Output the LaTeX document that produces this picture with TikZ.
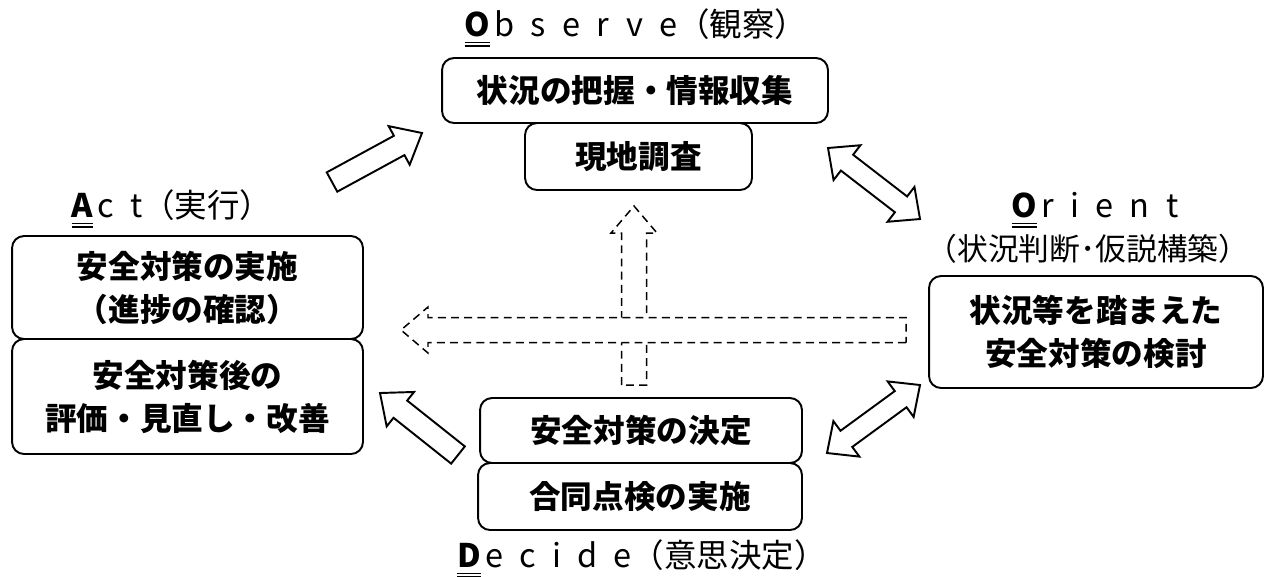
\documentclass[tikz,border=0pt]{standalone}
\usepackage{fontspec}
\usepackage{tikz}
\usetikzlibrary{calc}

\newfontfamily\jpfont{Noto Sans CJK JP}

\tikzset{
	stepbox/.style={draw, line width=1.1pt, rounded corners=0.24cm, fill=white, align=center, inner sep=0pt,
		font=\jpfont\bfseries\fontsize{18}{24.5}\selectfont},
	phase/.style={anchor=base, inner sep=0pt, font=\jpfont\fontsize{18.5}{24}\selectfont},
	bigarrow/.style={draw, line width=1.1pt, fill=white, line join=miter},
	dasharrow/.style={draw, line width=0.85pt, dash pattern=on 4.5pt off 3pt, fill=white, line join=miter}
}

% double underline under the first letter, the rest spaced out
\newcommand{\dul}[1]{\setbox0\hbox{\bfseries #1}\rlap{\rule[-4.1pt]{\wd0}{0.85pt}}\rlap{\rule[-6pt]{\wd0}{0.85pt}}\box0\kern2.5pt}
\newcommand{\wide}[1]{{\addfontfeature{LetterSpace=50}#1}}

% shaft half width, head half width, head length
\newcommand{\aw}{0.22cm}
\newcommand{\ah}{0.44cm}
\newcommand{\al}{0.52cm}

\newcommand{\onearrow}[3][bigarrow]{
	\coordinate (hb) at ($(#3)!\al!(#2)$);
	\draw[#1] ($(#2)!\aw!90:(#3)$) -- ($(hb)!\aw!90:(#3)$) -- ($(hb)!\ah!90:(#3)$) -- (#3)
		-- ($(hb)!\ah!-90:(#3)$) -- ($(hb)!\aw!-90:(#3)$) -- ($(#2)!\aw!-90:(#3)$) -- cycle;
}

\newcommand{\twoarrow}[2]{
	\coordinate (ha) at ($(#1)!\al!(#2)$);
	\coordinate (hb) at ($(#2)!\al!(#1)$);
	\draw[bigarrow] (#1) -- ($(ha)!\ah!90:(#2)$) -- ($(ha)!\aw!90:(#2)$) -- ($(hb)!\aw!90:(#2)$) -- ($(hb)!\ah!90:(#2)$) -- (#2)
		-- ($(hb)!\ah!-90:(#2)$) -- ($(hb)!\aw!-90:(#2)$) -- ($(ha)!\aw!-90:(#2)$) -- ($(ha)!\ah!-90:(#2)$) -- cycle;
}

\begin{document}
\begin{tikzpicture}[x=0.02cm, y=-0.02cm]

\useasboundingbox (0,0) rectangle (1266,576);

% dashed arrows in the middle
\coordinate (upTail) at (634,385);
\coordinate (upTip) at (634,206);
\coordinate (leftTail) at (906,330);
\coordinate (leftTip) at (401,330);

\renewcommand{\aw}{0.25cm}
\renewcommand{\ah}{0.46cm}
\renewcommand{\al}{0.54cm}
\onearrow[dasharrow]{upTail}{upTip}
\onearrow[dasharrow]{leftTail}{leftTip}

% Observe
\node[phase] (lblObs) at (636,36) {\dul{O}\wide{bserve}（観察）};
\node[stepbox, minimum width=7.72cm, minimum height=1.3cm] (obsA) at (635,90.5) {状況の把握・情報収集};
\node[stepbox, minimum width=4.54cm, minimum height=1.34cm] (obsB) at (638.5,156.5) {現地調査};

% Orient
\node[phase] (lblOri) at (1095,217) {\dul{O}\wide{rient}};
\node[phase, font=\jpfont\fontsize{17.5}{22}\selectfont] (lblOriSub) at (1088,260) {（状況判断･仮説構築）};
\node[stepbox, minimum width=6.68cm, minimum height=2.24cm] (ori) at (1096,332) {状況等を踏まえた\\安全対策の検討};

% Decide
\node[stepbox, minimum width=6.44cm, minimum height=1.3cm] (decA) at (641,430.5) {安全対策の決定};
\node[stepbox, minimum width=6.48cm, minimum height=1.34cm] (decB) at (640,496.5) {合同点検の実施};
\node[phase] (lblDec) at (642,567) {\dul{D}\wide{ecide}（意思決定）};

% Act
\node[phase] (lblAct) at (172,217) {\dul{A}\wide{ct}（実行）};
\node[stepbox, minimum width=7.02cm, minimum height=2.06cm] (actA) at (187.5,287.5) {安全対策の実施\\（進捗の確認）};
\node[stepbox, minimum width=7.02cm, minimum height=2.3cm] (actB) at (187.5,396.5) {安全対策後の\\評価・見直し・改善};

% block arrows round the loop
\coordinate (aoTail) at (332,182);
\coordinate (aoTip) at (422,133);
\coordinate (daTail) at (458,455);
\coordinate (daTip) at (380,393);
\coordinate (ooA) at (828,148);
\coordinate (ooB) at (920,219);
\coordinate (doA) at (827,453);
\coordinate (doB) at (920,385);

\renewcommand{\aw}{0.22cm}
\renewcommand{\ah}{0.44cm}
\renewcommand{\al}{0.52cm}
\onearrow{aoTail}{aoTip}
\onearrow{daTail}{daTip}

\renewcommand{\aw}{0.2cm}
\renewcommand{\al}{0.48cm}
\twoarrow{ooA}{ooB}
\twoarrow{doA}{doB}

\end{tikzpicture}
\end{document}
